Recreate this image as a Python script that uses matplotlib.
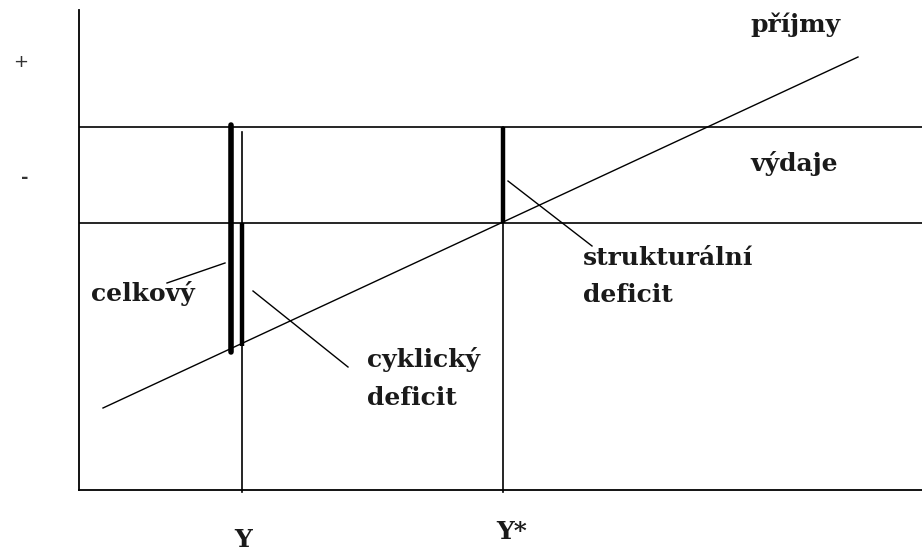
import matplotlib
matplotlib.use('Agg')
import matplotlib.pyplot as plt

# --- diagram data (units: pixels from the origin of the axes) ---
vydaje_level = 363          # upper horizontal line (výdaje)
zero_level = 267            # lower horizontal line
y_actual = 163              # Y
y_potential = 424           # Y*
prijmy_x = [24, 779]        # revenue line endpoints
prijmy_y = [82, 433]

celkovy_bar = [152, 365, 138]      # x, top, bottom
cyklicky_bar = [163, 267, 144]
struktur_bar = [424, 363, 267]

pointer_celkovy = ([88, 146], [207, 227])
pointer_cyklicky = ([174, 269], [199, 123])
pointer_struktur = ([429, 513], [309, 244])

W, H = 922, 551
fig = plt.figure(figsize=(W / 100, H / 100), dpi=100)
x0, y0 = 79, 490
ax = fig.add_axes([x0 / W, (H - y0) / H, (W - x0) / W, (y0 - 10) / H])
ax.set_xlim(0, W - x0)
ax.set_ylim(0, y0 - 10)
for s in ['top', 'right']:
    ax.spines[s].set_visible(False)
for s in ['left', 'bottom']:
    ax.spines[s].set_linewidth(1.3)
ax.set_xticks([])
ax.set_yticks([])

lw = 1.2
ax.axhline(vydaje_level, color='k', lw=lw)
ax.axhline(zero_level, color='k', lw=lw)
ax.plot([y_actual, y_actual], [-2, vydaje_level - 5], color='k', lw=lw, clip_on=False)
ax.plot([y_potential, y_potential], [-2, vydaje_level], color='k', lw=lw, clip_on=False)
ax.plot(prijmy_x, prijmy_y, color='k', lw=1.0)

for bx, top, bot in [celkovy_bar]:
    ax.plot([bx, bx], [bot, top], color='k', lw=4.0, solid_capstyle='round')
for bx, top, bot in [cyklicky_bar, struktur_bar]:
    ax.plot([bx, bx], [bot, top], color='k', lw=3.2, solid_capstyle='butt')

for px, py in [pointer_celkovy, pointer_cyklicky, pointer_struktur]:
    ax.plot(px, py, color='k', lw=1.0)

font = dict(family='DejaVu Serif', fontweight='bold', fontsize=18, color='#1a1a1a')
ax.text(671, 465, 'příjmy', va='center', ha='left', clip_on=False, **font)
ax.text(671, 327, 'výdaje', va='center', ha='left', **font)
ax.text(12, 197, 'celkový', va='center', ha='left', **font)
ax.text(288, 130, 'cyklický', va='center', ha='left', **font)
ax.text(288, 92, 'deficit', va='center', ha='left', **font)
ax.text(504, 232, 'strukturální', va='center', ha='left', **font)
ax.text(504, 195, 'deficit', va='center', ha='left', **font)
ax.text(164, -50, 'Y', va='center', ha='center', clip_on=False, **font)
ax.text(433, -42, 'Y*', va='center', ha='center', clip_on=False, **font)
ax.text(-58, 428, '+', va='center', ha='center', fontsize=13, color='#333333', clip_on=False)
ax.text(-54, 312, '-', va='center', ha='center', fontsize=13, fontweight='bold', color='#333333', clip_on=False)

fig.savefig('out.png', dpi=100)
